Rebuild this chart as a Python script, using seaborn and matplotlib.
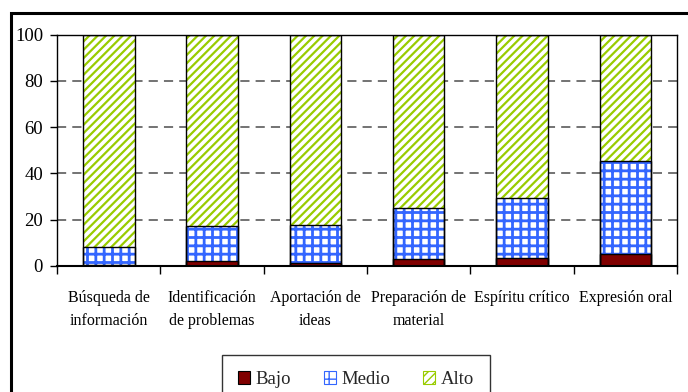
import matplotlib
matplotlib.use("Agg")
import matplotlib.pyplot as plt
import seaborn as sns
import pandas as pd
from matplotlib.patches import Patch, Rectangle

# Porcentaje de alumnos por nivel en cada competencia
categorias = ["Búsqueda de\ninformación", "Identificación\nde problemas",
              "Aportación de\nideas", "Preparación de\nmaterial",
              "Espíritu crítico", "Expresión oral"]
bajo = [0.5, 2.0, 1.4, 3.0, 3.5, 5.1]
medio = [7.9, 15.2, 16.3, 22.0, 25.9, 40.4]
alto = [91.6, 82.8, 82.3, 75.0, 70.6, 54.5]
niveles = ["Bajo", "Medio", "Alto"]
yticks = [0, 20, 40, 60, 80, 100]

sns.set_theme(style="white")
plt.rcParams["font.family"] = ["Liberation Serif", "DejaVu Serif"]

df = pd.DataFrame({"cat": categorias, "Bajo": bajo, "Medio": medio, "Alto": alto})
df["tope_bajo"] = df["Bajo"]
df["tope_medio"] = df["Bajo"] + df["Medio"]
df["tope_alto"] = df["tope_medio"] + df["Alto"]

fig = plt.figure(figsize=(6.88, 3.92), dpi=100)
ax = fig.add_axes([57 / 688, 1 - 266 / 392, 620 / 688, 231.5 / 392])

# estilo de relleno de cada nivel: (columna acumulada, trama, color, grosor trama)
capas = [
    ("tope_alto", "////", "#99cc00", 1.6),
    ("tope_medio", "++", "#3366ff", 2.0),
    ("tope_bajo", None, "#800000", 1.0),
]

for col, trama, color, lw_trama in capas:
    n0 = len(ax.patches)
    with plt.rc_context({"hatch.linewidth": lw_trama, "hatch.color": color}):
        sns.barplot(data=df, x="cat", y=col, color=color, width=0.5,
                    saturation=1, ax=ax, errorbar=None)
        for p in ax.patches[n0:]:
            if trama:
                p.set_facecolor("white")
                p.set_edgecolor(color)
                p.set_hatch(trama)
                if hasattr(p, "set_hatch_linewidth"):
                    p.set_hatch_linewidth(lw_trama)
            else:
                p.set_facecolor(color)
                p.set_edgecolor(color)
            p.set_linewidth(0)

# contorno negro de cada segmento
for col, _, _, _ in capas:
    n0 = len(ax.patches)
    sns.barplot(data=df, x="cat", y=col, color="black", width=0.5,
                ax=ax, errorbar=None)
    for p in ax.patches[n0:]:
        p.set_facecolor("none")
        p.set_edgecolor("black")
        p.set_linewidth(1.0)
        p.set_hatch(None)

ax.set_xlim(-0.5, len(categorias) - 0.5)
ax.set_ylim(0, 100)
ax.set_yticks(yticks)
ax.set_yticklabels([str(v) for v in yticks], fontsize=13.5)
ax.set_xlabel("")
ax.set_ylabel("")

ax.set_axisbelow(True)
ax.yaxis.grid(True, color="#4d4d4d", linestyle=(0, (6, 4)), linewidth=1.1)
ax.xaxis.grid(False)

ax.set_xticks([i - 0.5 for i in range(len(categorias) + 1)], minor=True)
ax.tick_params(axis="x", which="major", length=0, pad=17, labelsize=11.5)
ax.tick_params(axis="x", which="minor", length=6, width=1, color="black",
               direction="out", bottom=True)
ax.tick_params(axis="y", which="major", length=5, width=1, color="black",
               direction="out", left=True, pad=5)
for lab in ax.get_xticklabels():
    lab.set_linespacing(1.6)
    lab.set_color("black")
for lab in ax.get_yticklabels():
    lab.set_color("black")

for s in ax.spines.values():
    s.set_visible(True)
    s.set_color("black")
    s.set_linewidth(1.0)
ax.spines["bottom"].set_linewidth(1.5)

handles = [
    Patch(facecolor="#800000", edgecolor="black", linewidth=0.8, label="Bajo"),
    Patch(facecolor="white", edgecolor="#3366ff", hatch="++", linewidth=0.8, label="Medio"),
    Patch(facecolor="white", edgecolor="#99cc00", hatch="////", linewidth=0.8, label="Alto"),
]
leg = fig.legend(handles=handles, loc="upper center",
                 bbox_to_anchor=(356 / 688, 1 - 355 / 392), ncol=3,
                 frameon=True, fancybox=False, fontsize=13.5,
                 handlelength=0.65, handleheight=0.65, handletextpad=0.3,
                 columnspacing=1.75, borderpad=0.85, borderaxespad=0)
leg.get_frame().set_edgecolor("black")
leg.get_frame().set_linewidth(1.0)

fig.add_artist(Rectangle((10.5 / 688, -0.1), 1.2, (1 - 13.5 / 392) + 0.1,
                         transform=fig.transFigure, fill=False,
                         edgecolor="black", linewidth=2.2, clip_on=False))

fig.savefig("out.png", dpi=100)
